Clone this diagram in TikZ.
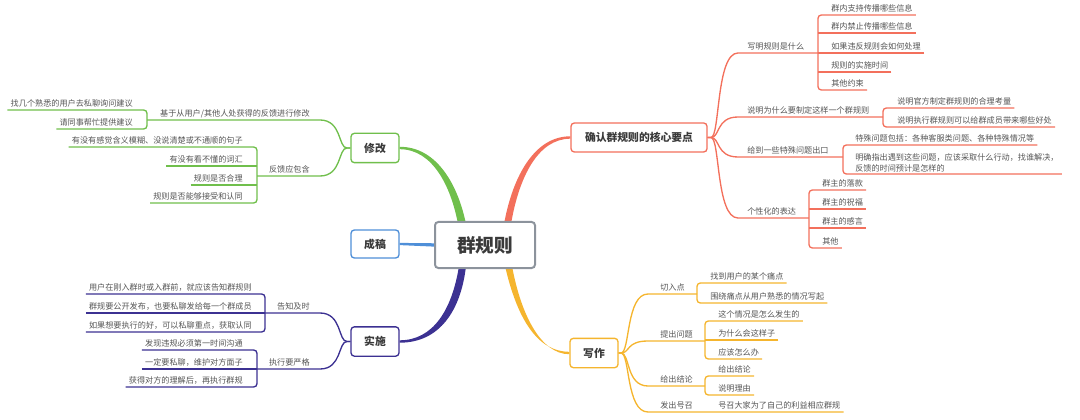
\documentclass[tikz,border=0pt]{standalone}
\usepackage{fontspec}
\setmainfont{Noto Sans CJK SC}
\usetikzlibrary{backgrounds,calc}
\definecolor{cg}{HTML}{70BF4C}
\definecolor{cr}{HTML}{F3705C}
\definecolor{cb}{HTML}{4F8FD8}
\definecolor{cp}{HTML}{3C3192}
\definecolor{co}{HTML}{F5B52E}
\definecolor{cc}{HTML}{8C939C}
\definecolor{tx}{HTML}{555555}
\definecolor{tm}{HTML}{3A3A3A}
\begin{document}
\begin{tikzpicture}[x=0.75pt,y=-0.75pt,
 mn/.style={draw=#1, line width=1pt, rounded corners=2.5pt, fill=white, text=tm,
   font=\fontsize{8.1}{10}\selectfont\bfseries, minimum height=22pt, inner xsep=0pt, inner ysep=0pt},
 lb/.style={font=\fontsize{6.1}{8.3}\selectfont, text=tx, inner xsep=2.25pt, inner ysep=1.3pt,
   text height=5.3pt, text depth=1.2pt},
 lr/.style={lb, anchor=south west},
 ll/.style={lb, anchor=south east},
 sl/.style={draw=#1, line width=1pt, rounded corners=2.5pt},
 cl/.style={draw=#1, line width=1pt},
]
\useasboundingbox (0,0) rectangle (1080,420);

% main nodes
\node[mn=cc, line width=1.5pt, font=\fontsize{14}{16}\selectfont\bfseries, minimum width=75pt, minimum height=34.5pt] (c) at (485,245) {群规则};
\node[mn=cr, minimum width=102pt, minimum height=21.75pt] (m1) at (639,137.5) {确认群规则的核心要点};
\node[mn=cg, minimum width=36pt] (m2) at (375,148) {修改};
\node[mn=cb, minimum width=36pt, minimum height=21pt] (m5) at (375,244) {成稿};
\node[mn=cp, minimum width=36pt] (m3) at (375,341.5) {实施};
\node[mn=co, minimum width=36pt] (m4) at (594,353) {写作};

% thick tapered branches
\begin{scope}[on background layer]
\fill[cg] ($(m2.east)+(0,-1.2)$) .. controls (437,146.8) and (458,185) .. ($(c.north)+(-19,3)$)
  -- ($(c.north)+(-27,3)$) .. controls (451,187) and (433,149.2) .. ($(m2.east)+(0,1.2)$) -- cycle;
\fill[cr] ($(m1.west)+(0,-1.2)$) .. controls (535,136.3) and (513,175) .. ($(c.north)+(19,3)$)
  -- ($(c.north)+(26,3)$) .. controls (519,177) and (538,138.7) .. ($(m1.west)+(0,1.2)$) -- cycle;
\fill[cp] ($(m3.east)+(0,-1.2)$) .. controls (433,340.3) and (452,310) .. ($(c.south)+(-26,-3)$)
  -- ($(c.south)+(-19,-3)$) .. controls (461,310) and (440,342.7) .. ($(m3.east)+(0,1.2)$) -- cycle;
\fill[co] ($(m4.west)+(0,-1.2)$) .. controls (537,351.8) and (517,318) .. ($(c.south)+(20,-3)$)
  -- ($(c.south)+(27,-3)$) .. controls (521,315) and (541,354.2) .. ($(m4.west)+(0,1.2)$) -- cycle;
\fill[cb] ($(m5.east)+(0,-1.1)$) -- ($(c.west)+(2,-1.7)$) -- ($(c.west)+(2,1.7)$) -- ($(m5.east)+(0,1.1)$) -- cycle;
\end{scope}

% ---------- red: 确认群规则的核心要点 ----------
\node[lr] (r1) at (744,53) {写明规则是什么};
\node[lr] (r2) at (744,117) {说明为什么要制定这样一个群规则};
\node[lr] (r3) at (744,157) {给到一些特殊问题出口};
\node[lr] (r4) at (744,218) {个性化的表达};
\node[lr] (r11) at (828,15) {群内支持传播哪些信息};
\node[lr] (r12) at (828,33) {群内禁止传播哪些信息};
\node[lr] (r13) at (828,53) {如果违反规则会如何处理};
\node[lr] (r14) at (828,72) {规则的实施时间};
\node[lr] (r15) at (828,90) {其他约束};
\node[lr] (r21) at (894,108) {说明官方制定群规则的合理考量};
\node[lr] (r22) at (894,127) {说明执行群规则可以给群成员带来哪些好处};
\node[lr] (r31) at (852,145) {特殊问题包括：各种客服类问题、各种特殊情况等};
\node[font=\fontsize{6.1}{8.3}\selectfont, text=tx, inner xsep=2.25pt, inner ysep=1.3pt, align=left, anchor=south west] (r32) at (852,174) {明确指出遇到这些问题，应该采取什么行动，找谁解决，\\反馈的时间预计是怎样的};
\node[lr] (r41) at (819,190) {群主的落款};
\node[lr] (r42) at (819,209) {群主的祝福};
\node[lr] (r43) at (819,228) {群主的感言};
\node[lr] (r44) at (819,248) {其他};

\foreach \y/\b in {53/818, 117/883, 157/843, 218/809}
  \draw[cl=cr] (m1.east) -- (711,137.5) .. controls (720,137.5) and (716,\y) .. (738,\y) -- (\b,\y);
\draw[sl=cr] (r11.south east) -- (818,15) -- (818,90) -- (r15.south east);
\draw[sl=cr] (r12.south east) -- (818,33);
\draw[sl=cr] (r13.south east) -- (818,53);
\draw[sl=cr] (r14.south east) -- (818,72);
\draw[sl=cr] (r21.south east) -- (883,108) -- (883,127) -- (r22.south east);
\draw[sl=cr] (r31.south east) -- (843,145) -- (843,174) -- (r32.south east);
\draw[sl=cr] (r41.south east) -- (809,190) -- (809,248) -- (r44.south east);
\draw[sl=cr] (r42.south east) -- (809,209);
\draw[sl=cr] (r43.south east) -- (809,228);

% ---------- orange: 写作 ----------
\node[lr] (o1) at (657,294) {切入点};
\node[lr] (o2) at (657,341) {提出问题};
\node[lr] (o3) at (657,386) {给出结论};
\node[lr] (o4) at (657,412) {发出号召};
\node[lr] (o11) at (707,283) {找到用户的某个痛点};
\node[lr] (o12) at (707,303) {围绕痛点从用户熟悉的情况写起};
\node[lr] (o21) at (715,321) {这个情况是怎么发生的};
\node[lr] (o22) at (715,340) {为什么会这样子};
\node[lr] (o23) at (715,359) {应该怎么办};
\node[lr] (o31) at (715,376) {给出结论};
\node[lr] (o32) at (715,395) {说明理由};
\node[lr] (o41) at (715,412) {号召大家为了自己的利益相应群规};

\foreach \y/\b in {294/697, 341/705, 386/705}
  \draw[cl=co] (m4.east) -- (621,353) .. controls (630,353) and (626,\y) .. (648,\y) -- (\b,\y);
\draw[cl=co] (m4.east) -- (621,353) .. controls (630,353) and (626,412) .. (648,412) -- (o41.south east);
\draw[sl=co] (o11.south east) -- (697,283) -- (697,303) -- (o12.south east);
\draw[sl=co] (o21.south east) -- (705,321) -- (705,359) -- (o23.south east);
\draw[sl=co] (o22.south east) -- (705,340);
\draw[sl=co] (o31.south east) -- (705,376) -- (705,395) -- (o32.south east);

% ---------- green: 修改 ----------
\node[ll] (g1) at (313,120) {基于从用户/其他人处获得的反馈进行修改};
\node[ll] (g2) at (313,176) {反馈应包含};
\node[ll] (g11) at (136,110) {找几个熟悉的用户去私聊询问建议};
\node[ll] (g12) at (136,129) {请同事帮忙提供建议};
\node[ll] (g21) at (246,147) {有没有感觉含义模糊、没说清楚或不通顺的句子};
\node[ll] (g22) at (246,166) {有没有看不懂的词汇};
\node[ll] (g23) at (246,185) {规则是否合理};
\node[ll] (g24) at (246,203) {规则是否能够接受和认同};

\foreach \y/\b in {120/147, 176/257}
  \draw[cl=cg] (m2.west) -- (347,148) .. controls (338,148) and (342,\y) .. (320,\y) -- (\b,\y);
\draw[sl=cg] (g11.south west) -- (147,110) -- (147,129) -- (g12.south west);
\draw[sl=cg] (g21.south west) -- (257,147) -- (257,203) -- (g24.south west);
\draw[sl=cg] (g22.south west) -- (257,166);
\draw[sl=cg] (g23.south west) -- (257,185);

% ---------- purple: 实施 ----------
\node[ll] (p1) at (313,313) {告知及时};
\node[ll] (p2) at (313,369) {执行要严格};
\node[ll] (p11) at (255,294) {用户在刚入群时或入群前，就应该告知群规则};
\node[ll] (p12) at (255,313) {群规要公开发布，也要私聊发给每一个群成员};
\node[ll] (p13) at (255,332) {如果想要执行的好，可以私聊重点，获取认同};
\node[ll] (p21) at (246,350) {发现违规必须第一时间沟通};
\node[ll] (p22) at (246,369) {一定要私聊，维护对方面子};
\node[ll] (p23) at (246,387) {获得对方的理解后，再执行群规};

\foreach \y/\b in {313/265, 369/257}
  \draw[cl=cp] (m3.west) -- (347,341.5) .. controls (338,341.5) and (342,\y) .. (320,\y) -- (\b,\y);
\draw[sl=cp] (p11.south west) -- (265,294) -- (265,332) -- (p13.south west);
\draw[sl=cp] (p12.south west) -- (265,313);
\draw[sl=cp] (p21.south west) -- (257,350) -- (257,387) -- (p23.south west);
\draw[sl=cp] (p22.south west) -- (257,369);
\end{tikzpicture}
\end{document}
